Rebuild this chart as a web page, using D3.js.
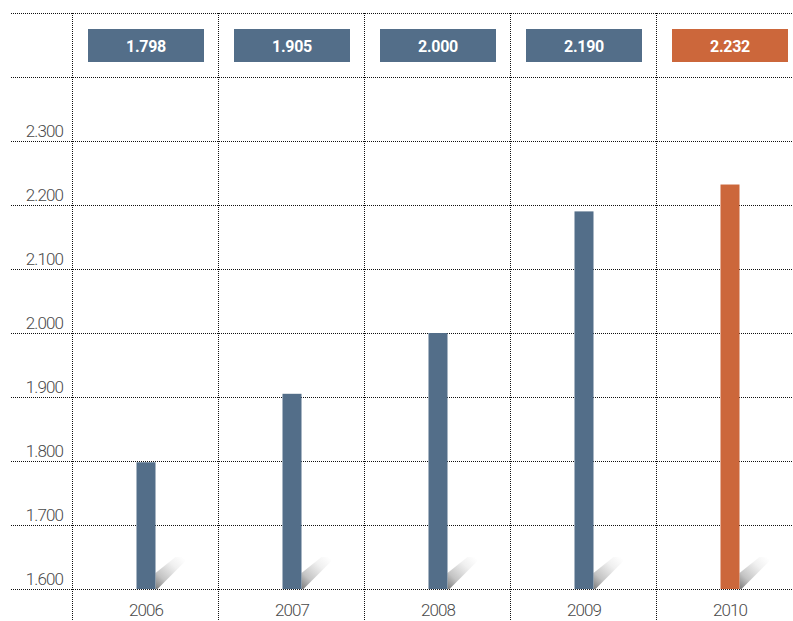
<!DOCTYPE html>
<html>
<head>
<meta charset="utf-8">
<script src="https://d3js.org/d3.v7.min.js"></script>
<style>
  html, body { margin: 0; padding: 0; background: #fff; overflow: hidden; }
</style>
</head>
<body>
<div id="chart"></div>
<script>
// data
const years = ["2006", "2007", "2008", "2009", "2010"];
const values = [1.798, 1.905, 2.000, 2.190, 2.232];
const valueLabels = ["1.798", "1.905", "2.000", "2.190", "2.232"];
const yTicks = [1.6, 1.7, 1.8, 1.9, 2.0, 2.1, 2.2, 2.3];
const gridValues = [1.6, 1.7, 1.8, 1.9, 2.0, 2.1, 2.2, 2.3, 2.4, 2.5];

const width = 793, height = 621;
const blue = "#536e89", orange = "#cc673b";

const svg = d3.select("#chart").append("svg")
    .attr("width", width)
    .attr("height", height);

const x = d3.scaleBand().domain(years).range([73, 73 + 146 * 5]).padding(0);
const y = d3.scaleLinear().domain([1.6, 2.5]).range([589, 13]);

const fontFamily = 'Roboto, "Liberation Sans", Arial, sans-serif';

// shadow gradient (fades from bar foot to upper right)
const defs = svg.append("defs");
const grad = defs.append("linearGradient")
    .attr("id", "shadow")
    .attr("x1", "0").attr("y1", "1").attr("x2", "0.9").attr("y2", "0.1");
grad.append("stop").attr("offset", "0%").attr("stop-color", "#7c7c7c");
grad.append("stop").attr("offset", "30%").attr("stop-color", "#c4c4c4");
grad.append("stop").attr("offset", "70%").attr("stop-color", "#f0f0f0");
grad.append("stop").attr("offset", "100%").attr("stop-color", "#ffffff");

// horizontal grid
svg.append("g").selectAll("line")
    .data(gridValues)
    .join("line")
    .attr("x1", 11).attr("x2", width)
    .attr("y1", d => Math.round(y(d)) + 0.5)
    .attr("y2", d => Math.round(y(d)) + 0.5)
    .attr("stroke", "#111")
    .attr("stroke-width", 1)
    .attr("stroke-dasharray", "1,1");

// vertical grid
svg.append("g").selectAll("line")
    .data(years)
    .join("line")
    .attr("x1", d => Math.round(x(d)) - 0.5)
    .attr("x2", d => Math.round(x(d)) - 0.5)
    .attr("y1", 13).attr("y2", height)
    .attr("stroke", "#111")
    .attr("stroke-width", 1)
    .attr("stroke-dasharray", "1,1");

// y tick labels
svg.append("g").selectAll("text")
    .data(yTicks)
    .join("text")
    .attr("x", 63)
    .attr("y", d => y(d) - 4)
    .attr("text-anchor", "end")
    .attr("font-family", fontFamily)
    .attr("font-weight", 300)
    .attr("font-size", "17px")
    .attr("letter-spacing", "-0.9px")
    .attr("fill", "#4a4a4a")
    .text(d => d3.format(".3f")(d));

const barW = 19;

// shadows
svg.append("g").selectAll("polygon")
    .data(years)
    .join("polygon")
    .attr("points", d => {
        const bx = x(d) + x.bandwidth() / 2 + barW / 2;
        const y0 = y(1.6);
        return [[bx, y0], [bx, y0 - 16], [bx + 20, y0 - 32], [bx + 34, y0 - 32], [bx + 2, y0]]
            .map(p => p.join(",")).join(" ");
    })
    .attr("fill", "url(#shadow)");

// bars
svg.append("g").selectAll("rect")
    .data(values)
    .join("rect")
    .attr("x", (d, i) => x(years[i]) + x.bandwidth() / 2 - barW / 2)
    .attr("width", barW)
    .attr("y", d => y(d))
    .attr("height", d => y(1.6) - y(d))
    .attr("fill", (d, i) => i === values.length - 1 ? orange : blue);

// value boxes
const boxW = 116, boxH = 33;
const boxes = svg.append("g").selectAll("g")
    .data(values)
    .join("g")
    .attr("transform", (d, i) => `translate(${x(years[i]) + x.bandwidth() / 2 - boxW / 2}, 29)`);

boxes.append("rect")
    .attr("width", boxW)
    .attr("height", boxH)
    .attr("fill", (d, i) => i === values.length - 1 ? orange : blue);

boxes.append("text")
    .attr("x", boxW / 2)
    .attr("y", boxH / 2 + 6)
    .attr("text-anchor", "middle")
    .attr("font-family", fontFamily)
    .attr("font-weight", "bold")
    .attr("font-size", "16px")
    .attr("letter-spacing", "-0.3px")
    .attr("fill", "#fff")
    .text((d, i) => valueLabels[i]);

// x labels
svg.append("g").selectAll("text")
    .data(years)
    .join("text")
    .attr("x", d => x(d) + x.bandwidth() / 2)
    .attr("y", 616)
    .attr("text-anchor", "middle")
    .attr("font-family", fontFamily)
    .attr("font-weight", 300)
    .attr("font-size", "17px")
    .attr("letter-spacing", "-0.9px")
    .attr("fill", "#4a4a4a")
    .text(d => d);
</script>
</body>
</html>
